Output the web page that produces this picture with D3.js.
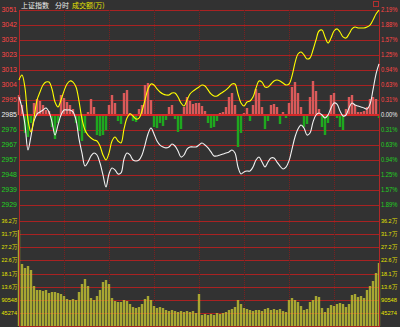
<!DOCTYPE html>
<html lang="zh">
<head>
  <meta charset="UTF-8">
  <title>上证指数 分时</title>
  <script src="https://d3js.org/d3.v7.min.js"></script>
  <style>
    html, body { margin: 0; padding: 0; background: #323232; }
    svg { display: block; }
    text { font-family: "Liberation Sans", Arial, sans-serif; font-size: 7px; }
    .vol { font-size: 6px; }
    .title { font-family: "Noto Sans CJK SC", sans-serif; font-size: 7px; }
  </style>
</head>
<body>
<svg width="400" height="327"></svg>
<script>
// one value every 2 minutes, 9:30 -> 15:00
const priceLine = [
  2996.7, 2989.9, 2979.3, 2963.7, 2972.4, 2981.8, 2986.1, 2987.4, 2988.6, 2989.9,
  2987.4, 2981.1, 2973.0, 2979.3, 2985.5, 2988.6, 2988.6, 2988.6, 2987.4, 2982.4,
  2970.6, 2961.8, 2953.7, 2956.2, 2960.0, 2961.8, 2960.6, 2955.6, 2948.1, 2940.7,
  2948.8, 2952.5, 2951.3, 2948.8, 2949.4, 2958.1, 2961.8, 2960.6, 2957.5, 2956.9,
  2957.5, 2960.6, 2966.8, 2973.7, 2977.4, 2973.7, 2969.3, 2966.8, 2965.6, 2965.0,
  2965.6, 2967.4, 2966.2, 2963.1, 2959.3, 2960.6, 2964.3, 2965.6, 2965.6, 2965.6,
  2966.8, 2968.1, 2966.8, 2965.0, 2962.5, 2960.0, 2960.0, 2960.6, 2961.2, 2961.8,
  2962.5, 2963.7, 2961.8, 2953.1, 2948.8, 2950.0, 2950.6, 2950.6, 2953.1, 2957.5,
  2959.3, 2956.2, 2953.1, 2956.2, 2958.7, 2958.7, 2956.2, 2953.7, 2951.9, 2953.1,
  2956.9, 2964.3, 2971.8, 2976.8, 2979.3, 2977.4, 2973.0, 2974.3, 2981.1, 2985.5,
  2986.7, 2985.5, 2983.6, 2985.5, 2989.9, 2993.0, 2992.3, 2988.0, 2984.9, 2985.5,
  2989.9, 2993.0, 2991.7, 2991.1, 2990.5, 2989.9, 2989.2, 2992.3, 3001.1, 3011.0,
  3017.3
];
const avgLine = [
  3007.3, 3010.4, 3002.3, 2982.4, 2974.9, 2983.6, 2994.8, 2999.8, 3004.2, 3006.0,
  3006.0, 3001.7, 2993.6, 2990.5, 2994.8, 3000.4, 3004.8, 3006.7, 3006.0, 3002.9,
  2994.2, 2983.0, 2976.2, 2973.0, 2971.2, 2969.9, 2969.3, 2966.2, 2960.6, 2957.5,
  2961.8, 2969.3, 2971.8, 2969.3, 2968.1, 2976.8, 2983.6, 2986.1, 2984.9, 2983.0,
  2983.6, 2988.0, 2994.8, 3001.7, 3004.8, 3004.2, 3001.7, 2999.8, 2998.6, 2998.0,
  2998.0, 2999.2, 2999.2, 2996.7, 2993.0, 2991.1, 2994.8, 2998.6, 3000.4, 3001.7,
  3002.9, 3004.2, 3003.6, 3001.1, 2998.6, 2997.3, 2997.3, 2998.6, 2999.8, 3001.1,
  3002.9, 3004.8, 3004.8, 2998.6, 2993.0, 2991.1, 2993.6, 2994.2, 2996.7, 3002.3,
  3006.7, 3006.0, 3002.9, 3002.9, 3004.8, 3006.7, 3007.3, 3006.7, 3005.4, 3004.2,
  3004.8, 3009.8, 3017.9, 3023.5, 3024.7, 3022.9, 3020.4, 3021.0, 3026.0, 3032.2,
  3037.8, 3038.4, 3034.1, 3030.3, 3033.4, 3037.8, 3039.1, 3037.2, 3034.1, 3033.4,
  3035.9, 3039.1, 3040.3, 3039.7, 3039.7, 3039.7, 3040.3, 3041.5, 3044.7, 3048.4,
  3050.8
];
// red / green strength bars around the zero line
const strength = [
  20, 10, -18, -22, -8, 12, 16, 14, 10, 5,
  4, -12, -24, -8, 20, 17, 13, 10, 6, -8,
  -16, -26, -18, 3, 16, 8, -20, -21, -20, -15,
  10, 20, 12, -6, -9, 22, 25, 2, -6, -7,
  6, 10, 30, 32, 15, -12, -13, -8, -11, -5,
  8, 10, -4, -17, -14, 8, 18, 14, 11, 12,
  12, 9, 4, -8, -13, -12, -6, 2, 3, 8,
  18, 22, 10, -32, -18, 2, 7, -6, 10, 26,
  22, 8, -14, -6, 10, 11, 8, -9, 3, -3,
  12, 28, 33, 22, 8, -12, -9, 18, 34, 24,
  6, -12, -20, -8, 20, 22, -3, -12, -15, 6,
  18, 20, 10, 3, 3, 4, 8, 16, 18, 16,
  -3
];
const volume = [
  331100, 213900, 200100, 207000, 193200, 138000, 124200, 124200, 120700, 124200,
  113800, 117300, 117300, 113800, 110400, 103500, 93100, 89700, 93100, 89700,
  117300, 144900, 162100, 138000, 96600, 89700, 103500, 124200, 151800, 158700,
  144900, 96600, 86200, 82800, 82800, 89700, 86200, 75900, 65500, 62100,
  65500, 75900, 93100, 103500, 89700, 69000, 62100, 65500, 62100, 55200,
  51700, 55200, 51700, 48300, 51700, 48300, 51700, 48300, 51700, 44800,
  110400, 37900, 41400, 37900, 41400, 37900, 44800, 41400, 44800, 48300,
  55200, 58600, 65500, 89700, 75900, 62100, 58600, 55200, 51700, 55200,
  55200, 51700, 58600, 62100, 55200, 58600, 55200, 58600, 51700, 48300,
  89700, 96600, 89700, 82800, 69000, 55200, 58600, 82800, 89700, 103500,
  100000, 62100, 48300, 62100, 72400, 69000, 75900, 79300, 75900, 65500,
  75900, 106900, 110400, 100000, 103500, 96600, 124200, 138000, 155200, 182800,
  217300
];

const preClose = 2985.5;
const priceStep = 9.34;
const leftTicks = ["3051", "3042", "3032", "3023", "3013", "3004", "2995", "2985",
                   "2976", "2967", "2957", "2948", "2939", "2929"];
const rightTicks = ["2.19%", "1.88%", "1.57%", "1.25%", "0.94%", "0.63%", "0.31%", "0.00%",
                    "0.31%", "0.63%", "0.94%", "1.25%", "1.57%", "1.89%"];
const volStep = 45274;
const volTicks = ["36.2万", "31.7万", "27.2万", "22.6万", "18.1万", "13.6万", "90548", "45274"];

const RED = "#ff4646", GREEN = "#22d022", WHITE = "#eeeeee", YELLOW = "#e6e600";

const svg = d3.select("svg");
const left = 19, right = 379;

const xt = d3.scaleLinear().domain([0, 240]).range([left, right]);
const x = i => xt(i * 2);
const y = d3.scaleLinear()
  .domain([preClose - 6 * priceStep, preClose + 7 * priceStep])
  .range([205, 10]);
const yBar = d3.scaleLinear().domain([0, 40]).range([0, 40]);
const yVol = d3.scaleLinear().domain([0, 8 * volStep]).range([326, 221]);

const priceLevels = d3.range(7, -7, -1).map(k => preClose + k * priceStep);
const volLevels = d3.range(8, 0, -1).map(k => k * volStep);

// grid
const grid = svg.append("g");
grid.selectAll(".hp").data(priceLevels).join("line")
  .attr("x1", left).attr("x2", right)
  .attr("y1", d => Math.round(y(d)) + 0.5).attr("y2", d => Math.round(y(d)) + 0.5)
  .attr("stroke", "#a82222");
grid.selectAll(".hv").data(volLevels.concat([0])).join("line")
  .attr("x1", left).attr("x2", right)
  .attr("y1", d => Math.round(yVol(d)) + 0.5).attr("y2", d => Math.round(yVol(d)) + 0.5)
  .attr("stroke", "#a82222");
grid.selectAll(".vv").data(d3.range(30, 240, 30)).join("line")
  .attr("x1", d => Math.round(xt(d)) + 0.5).attr("x2", d => Math.round(xt(d)) + 0.5)
  .attr("y1", 10).attr("y2", 326)
  .attr("stroke", "#7a2020").attr("stroke-dasharray", "1,1");

// strength bars
const zeroY = y(preClose);
svg.append("g").selectAll("rect").data(strength).join("rect")
  .attr("x", (d, i) => x(i) - 1.2)
  .attr("width", 2.4)
  .attr("y", d => d > 0 ? zeroY - yBar(d) : zeroY)
  .attr("height", d => yBar(Math.abs(d)))
  .attr("fill", d => d > 0 ? "#da5a5a" : "#1fa81f");

// volume bars
svg.append("g").selectAll("rect").data(volume).join("rect")
  .attr("x", (d, i) => x(i) - 1.2)
  .attr("width", 2.4)
  .attr("y", d => yVol(d))
  .attr("height", d => yVol(0) - yVol(d))
  .attr("fill", "#c4c432")
  .attr("opacity", 0.8);

// zero line and borders
svg.append("line").attr("x1", left).attr("x2", right)
  .attr("y1", zeroY).attr("y2", zeroY)
  .attr("stroke", "#d42828").attr("stroke-width", 2);
[left, right].forEach(bx => {
  svg.append("line").attr("x1", bx + 0.5).attr("x2", bx + 0.5)
    .attr("y1", 10).attr("y2", 327).attr("stroke", "#b02828");
});

// lines
const line = d3.line().x((d, i) => x(i)).y(d => y(d)).curve(d3.curveCatmullRom);
svg.append("path").datum(priceLine).attr("d", line)
  .attr("fill", "none").attr("stroke", "#f2f2f2").attr("stroke-width", 1.1);
svg.append("path").datum(avgLine).attr("d", line)
  .attr("fill", "none").attr("stroke", "#ffff00").attr("stroke-width", 1.1);

// labels
const labelColor = i => i < 7 ? RED : (i === 7 ? WHITE : GREEN);
svg.append("g").selectAll("text").data(priceLevels).join("text")
  .attr("x", 17).attr("y", d => y(d)).attr("dy", "0.35em")
  .attr("text-anchor", "end")
  .attr("fill", (d, i) => labelColor(i))
  .text((d, i) => leftTicks[i]);
svg.append("g").selectAll("text").data(priceLevels).join("text")
  .attr("x", 381).attr("y", d => y(d)).attr("dy", "0.35em")
  .attr("textLength", 16.5).attr("lengthAdjust", "spacingAndGlyphs")
  .attr("fill", (d, i) => labelColor(i))
  .text((d, i) => rightTicks[i]);
svg.append("g").selectAll("text").data(volLevels).join("text")
  .attr("class", "vol")
  .attr("x", 1.5).attr("y", d => yVol(d)).attr("dy", "0.35em")
  .attr("textLength", 15.5).attr("lengthAdjust", "spacingAndGlyphs")
  .attr("fill", YELLOW)
  .text((d, i) => volTicks[i]);
svg.append("g").selectAll("text").data(volLevels).join("text")
  .attr("class", "vol")
  .attr("x", 381).attr("y", d => yVol(d)).attr("dy", "0.35em")
  .attr("textLength", 16).attr("lengthAdjust", "spacingAndGlyphs")
  .attr("fill", YELLOW)
  .text((d, i) => volTicks[i]);

// title
const title = svg.append("text").attr("class", "title").attr("x", 21).attr("y", 8);
title.append("tspan").attr("fill", WHITE).text("上证指数");
title.append("tspan").attr("fill", WHITE).attr("dx", 6).text("分时");
title.append("tspan").attr("fill", YELLOW).attr("dx", 3).text("成交额(万)");

svg.append("rect").attr("x", 373.5).attr("y", 1.5).attr("width", 5).attr("height", 5)
  .attr("fill", "none").attr("stroke", "#b03030");
</script>
</body>
</html>
